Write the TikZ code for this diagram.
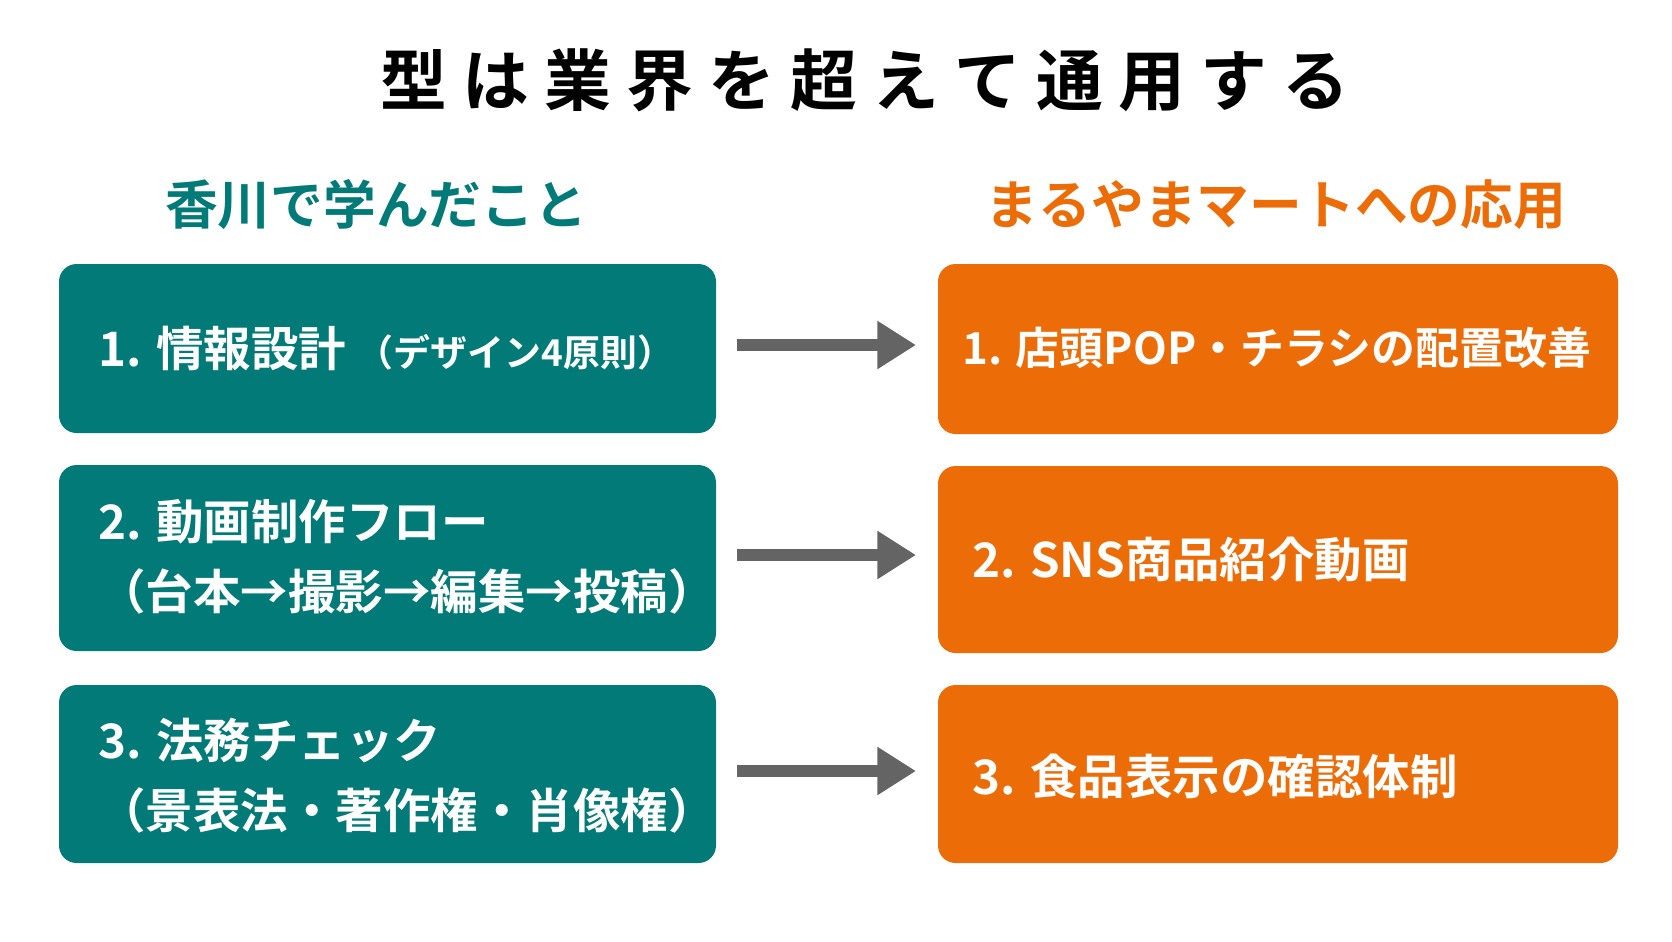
\documentclass[tikz,border=0pt]{standalone}
\usepackage{fontspec}
\setmainfont{Noto Sans CJK JP Bold}
\usetikzlibrary{positioning,arrows.meta}
\definecolor{tealbox}{HTML}{017A78}
\definecolor{orangebox}{HTML}{EC6D08}
\definecolor{arrowgray}{HTML}{646464}
\tikzset{
  learned/.style={fill=tealbox, rounded corners=5pt},
  applied/.style={fill=orangebox, rounded corners=5pt},
  boxtext/.style={text=white, anchor=west, align=left, font=\fontsize{13.5}{20}\selectfont},
  link/.style={line width=3.2pt, arrowgray, -{Triangle[length=11pt,width=13pt]}}
}
\begin{document}
\begin{tikzpicture}[x=0.01cm,y=-0.01cm]
	\useasboundingbox (0,0) rectangle (1672,941);

	% title
	\node (title) at (865,80) {\fontsize{19}{24}\selectfont 型 は 業 界 を 超 え て 通 用 す る};

	% headers
	\node[text=tealbox, font=\fontsize{15}{18}\selectfont] (hleft) at (376,205) {香川で学んだこと};
	\node[text=orangebox, font=\fontsize{15}{18}\selectfont] (hright) at (1276,205) {まるやまマートへの応用};

	% left boxes
	\fill[learned] (59,264) rectangle (716,433);
	\fill[learned] (59,465) rectangle (716,651);
	\fill[learned] (59,685) rectangle (716,863);
	\coordinate (l1) at (716,345);
	\coordinate (l2) at (716,555);
	\coordinate (l3) at (716,771);
	\node[boxtext] (t1) at (86,348) {1. 情報設計 {\fontsize{10.5}{12}\selectfont（デザイン4原則）}};
	\node[boxtext] (t2) at (86,557) {2. 動画制作フロー\\ （台本→撮影→編集→投稿）};
	\node[boxtext] (t3) at (86,776) {3. 法務チェック\\ （景表法・著作権・肖像権）};

	% right boxes
	\fill[applied] (938,264) rectangle (1618,434);
	\fill[applied] (938,466) rectangle (1618,653);
	\fill[applied] (938,685) rectangle (1618,863);
	\coordinate (r1) at (938,345);
	\coordinate (r2) at (938,555);
	\coordinate (r3) at (938,771);
	\node[boxtext, font=\fontsize{12.5}{20}\selectfont] (u1) at (950,348) {1. 店頭POP・チラシの配置改善};
	\node[boxtext] (u2) at (960,560) {2. SNS商品紹介動画};
	\node[boxtext] (u3) at (960,776) {3. 食品表示の確認体制};

	% arrows
	\draw[link] ([xshift=0.21cm]l1) -- ([xshift=-0.22cm]r1);
	\draw[link] ([xshift=0.21cm]l2) -- ([xshift=-0.22cm]r2);
	\draw[link] ([xshift=0.21cm]l3) -- ([xshift=-0.22cm]r3);

\end{tikzpicture}
\end{document}
